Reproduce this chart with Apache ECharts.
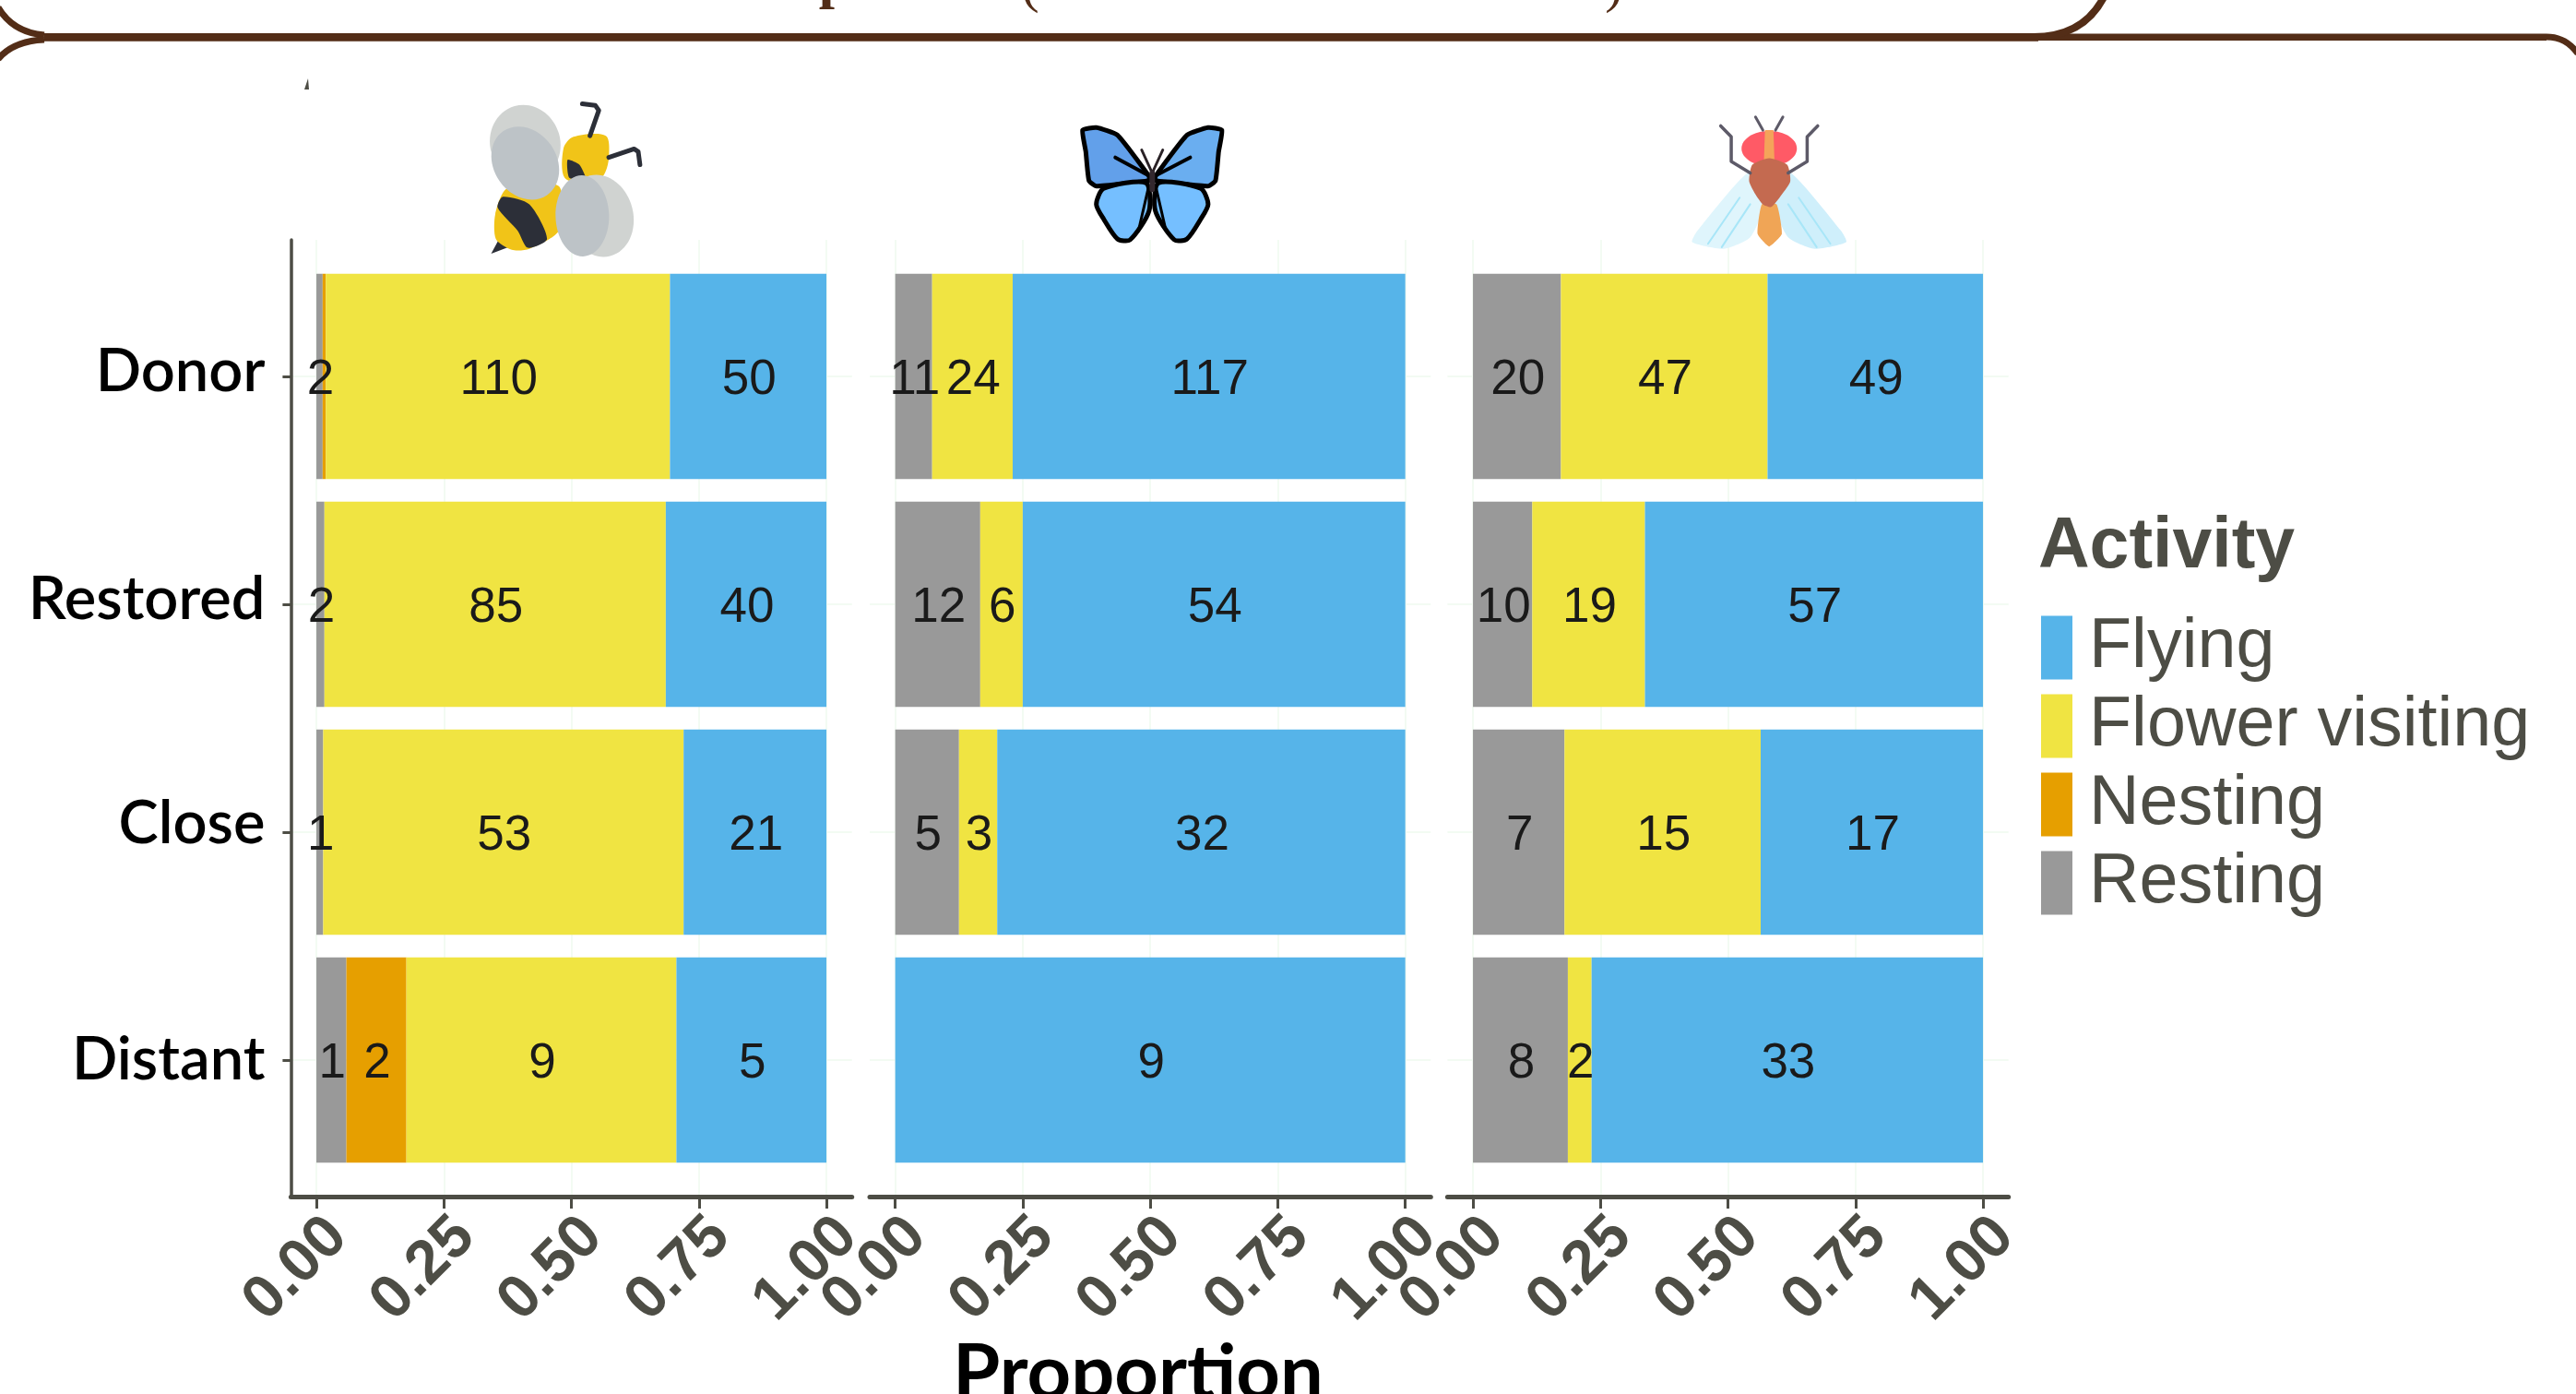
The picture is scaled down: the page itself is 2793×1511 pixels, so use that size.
<!DOCTYPE html>
<html><head><meta charset="utf-8">
<style>html,body{margin:0;padding:0;background:#fff}#c{width:2793px;height:1511px}</style>
<script src="https://cdn.jsdelivr.net/npm/echarts@6/dist/echarts.min.js"></script>
</head><body><div id="c"></div>
<script>
// ---------- data: raw counts ----------
const sites = ['Donor', 'Restored', 'Close', 'Distant'];
const activities = ['Resting', 'Nesting', 'Flower visiting', 'Flying'];
const legendOrder = ['Flying', 'Flower visiting', 'Nesting', 'Resting'];
const xTicks = [0, 0.25, 0.5, 0.75, 1];

const beeResting = [2, 2, 1, 1];
const beeNesting = [1, 0, 0, 2];
const beeFlower  = [110, 85, 53, 9];
const beeFlying  = [50, 40, 21, 5];

const butterflyResting = [11, 12, 5, 0];
const butterflyNesting = [0, 0, 0, 0];
const butterflyFlower  = [24, 6, 3, 0];
const butterflyFlying  = [117, 54, 32, 9];

const flyResting = [20, 10, 7, 8];
const flyNesting = [0, 0, 0, 0];
const flyFlower  = [47, 19, 15, 2];
const flyFlying  = [49, 57, 17, 33];

const panels = [
  [beeResting, beeNesting, beeFlower, beeFlying],
  [butterflyResting, butterflyNesting, butterflyFlower, butterflyFlying],
  [flyResting, flyNesting, flyFlower, flyFlying]
];
const colors = {'Flying':'#56B4E9','Flower visiting':'#F0E442','Nesting':'#E69F00','Resting':'#999999'};
// ---------- layout ----------
const panelLeft = [315.4, 943, 1569.4];
const panelWidth = 608.3;
const axisColor = '#4d4d45';
const gridFaint = '#f3fbf3';
const sans = '"Liberation Sans", Arial, sans-serif';
const humanist = 'Lato, "Noto Sans", sans-serif';
const siteLabelAt = [-0.02, 0.98, 1.964, 3];

const grid = [], xAxis = [], yAxis = [], series = [];
panels.forEach((counts, p) => {
  // frame grid: axis lines, ticks, labels, faint grid
  grid.push({left: panelLeft[p], width: panelWidth, top: 260, height: 1037});
  xAxis.push({
    type:'value', gridIndex: grid.length-1, min:-0.05, max:1.05,
    axisLine:{show:true, onZero:false, lineStyle:{color:axisColor,width:5}},
    axisTick:{show:true, length:13, customValues:xTicks, lineStyle:{color:axisColor,width:3}},
    axisLabel:{show:true, customValues:xTicks, rotate:45, margin:10, verticalAlign:'top', fontFamily:sans, fontSize:66, fontWeight:'bold', color:axisColor,
      formatter:v=>v.toFixed(2)},
    splitLine:{show:true, lineStyle:{color:gridFaint,width:2}}
  });
  yAxis.push({
    type:'value', gridIndex: grid.length-1, inverse:true, min:-0.6, max:3.6,
    axisLine:{show:p===0, onZero:false, lineStyle:{color:axisColor,width:3.5}},
    axisTick:{show:p===0, length:9, customValues:[0,1,2,3], lineStyle:{color:axisColor,width:3}},
    axisLabel:{show:p===0, customValues:siteLabelAt, margin:28, fontFamily:humanist, fontSize:65, fontWeight:600, color:'#000',
      formatter:v=>sites[Math.round(v)]},
    splitLine:{show:true, lineStyle:{color:gridFaint,width:2}}
  });
  // data grid: the bars
  grid.push({left: panelLeft[p], width: panelWidth, top: 284.5, height: 988});
  const gi = grid.length-1;
  xAxis.push({type:'value', gridIndex:gi, min:-0.05, max:1.05, show:false, splitLine:{show:false}});
  yAxis.push({type:'category', gridIndex:gi, inverse:true, data:sites, show:false, splitLine:{show:false}});
  const totals = sites.map((_,i)=>counts.reduce((s,a)=>s+a[i],0));
  activities.forEach((name,a)=>{
    series.push({
      name, type:'bar', stack:'p'+p, xAxisIndex:gi, yAxisIndex:gi, barCategoryGap:'10%',
      itemStyle:{color:colors[name]},
      label:{show:true, position:'inside', offset:[1,4], fontFamily:sans, fontSize:53, color:'#1a1a1a', overflow:'none',
        formatter:q=>counts[a][q.dataIndex]>0?String(counts[a][q.dataIndex]):''},
      data: counts[a].map((c,i)=>{
        const item={value:c/totals[i]};
        if(p===0&&a===1&&i===0) item.label={show:false};
        return item;
      }),
      animation:false
    });
  });
});

// ---------- decoration: frame and icons ----------
const brown='#532d17';
const B=(x,y)=>[x/1.568,y/2.8];             // bee sketch coordinates
const R=(x,y)=>[1000+x/0.8745,y/2.8];       // butterfly/fly sketch coordinates
const poly=(map,pts,fill,extra)=>Object.assign({type:'polygon',silent:true,
  shape:{points:pts.map(q=>map(q[0],q[1])),smooth:(extra&&extra.sm)||0},style:{fill,stroke:extra&&extra.st,lineWidth:extra&&extra.lw}},{z:50});
const pline=(map,pts,color,w)=>({type:'polyline',silent:true,z:52,shape:{points:pts.map(q=>map(q[0],q[1]))},style:{fill:null,stroke:color,lineWidth:w,lineCap:'round',lineJoin:'round'}});
const ell=(map,x,y,rx,ry,rot,fill)=>{const c=map(x,y);return {type:'ellipse',silent:true,z:50,x:c[0],y:c[1],rotation:rot||0,shape:{cx:0,cy:0,rx,ry},style:{fill}};};
const mir=(pts,c)=>pts.map(q=>[2*c-q[0],q[1]]);
const curve=(x1,y1,c1x,c1y,c2x,c2y,x2,y2,w)=>({type:'bezierCurve',silent:true,z:60,shape:{x1,y1,x2,y2,cpx1:c1x,cpy1:c1y,cpx2:c2x,cpy2:c2y},style:{stroke:brown,lineWidth:w,fill:null}});
const seg=(x1,y1,x2,y2,w)=>({type:'line',silent:true,z:60,shape:{x1,y1,x2,y2},style:{stroke:brown,lineWidth:w}});
const cut=(t,x,y,fs,wt)=>({type:'text',silent:true,z:60,x,y,style:{text:t,fontFamily:'"Liberation Serif",serif',fontWeight:wt,fontSize:fs,fill:brown,align:'center',verticalAlign:'bottom'}});

const w1=[[846,630],[855,597],[900,620],[930,725],[897,752],[880,700]];
const buL=[[152,395],[165,387],[185,410],[215,535],[215,548],[165,565],[158,548],[155,460]];
const blL=[[172,572],[212,555],[215,640],[197,728],[185,725],[172,665],[165,620]];
const fwL=[[785,520],[735,700],[730,735],[760,755],[785,720],[798,620]];
const graphicEls=[
  seg(48,40.3,2210,40.3,8.7), seg(2210,40.3,2761,40.3,7.4),
  curve(48,38,25,36,8,25,-2,8,7), curve(48,43,25,44,8,52,-2,64,7),
  curve(2205,40,2245,40,2268,22,2281,-3,8), curve(2761,40,2776,40,2786,46,2795,58,7),
  cut('p',905,12,62,'bold'), cut('(',1117,16,58,'normal'), cut(')',1750,16,58,'normal'),
  {type:'polygon',silent:true,z:50,shape:{points:[[334,85],[335,97],[330,97]]},style:{fill:'#4d4d45'}},
  // bee
  ...[[[1003,412],[1018,335],[1012,320],[990,315]],[[1035,478],[1078,452],[1085,460],[1088,500]]].map(p=>pline(B,p,'#2c2f38',5)),
  poly(B,[[835,770],[850,720],[865,750]],'#2c2f38'),
  poly(B,[[958,450],[975,415],[1030,412],[1035,480],[1025,535],[1000,555],[960,540]],'#f1c418',{sm:0.3}),
  poly(B,[[965,485],[985,500],[996,545],[968,540]],'#2c2f38',{sm:0.2}),
  poly(B,[[862,572],[950,565],[950,700],[900,755],[870,758],[843,725],[842,650]],'#f1c418',{sm:0.25}),
  poly(B,w1,'#2c2f38',{sm:0.25}),
  ell(B,893,435,38,42,0.28,'#d0d3d1'),
  ell(B,893,495,34,42,0.6,'#bdc3c7'),
  ell(B,1020,655,36,45,0.25,'#d0d3d1'),
  ell(B,990,655,29,44,0.02,'#bdc3c7'),
  // butterfly
  poly(R,buL,'#62a0ea',{st:'#000',lw:5,sm:0.15}),
  poly(R,mir(buL,218),'#6aaef0',{st:'#000',lw:5,sm:0.15}),
  poly(R,blL,'#75bfff',{st:'#000',lw:5,sm:0.25}),
  poly(R,mir(blL,218),'#75bfff',{st:'#000',lw:5,sm:0.25}),
  pline(R,[[218,525],[208,455]],'#2a2226',3), pline(R,[[218,525],[228,455]],'#2a2226',3),
  pline(R,[[213,530],[183,478]],'#000',4), pline(R,[[223,530],[254,478]],'#000',4),
  pline(R,[[218,525],[218,575]],'#33282e',6),
  pline(R,[[214,575],[205,700]],'#000',3), pline(R,[[222,575],[231,700]],'#000',3),
  // fly
  poly(R,fwL,'#dff5fc',{sm:0.2}), poly(R,mir(fwL,803),'#cfeffb',{sm:0.2}),
  pline(R,[[775,600],[745,740]],'#a8e6f8',2), pline(R,[[785,620],[758,750]],'#a8e6f8',2),
  pline(R,[[831,600],[861,740]],'#a8e6f8',2), pline(R,[[821,620],[848,750]],'#a8e6f8',2),
  pline(R,[[785,525],[767,490],[767,415],[757,382]],'#5d5a68',3.5),
  pline(R,[[821,525],[839,490],[839,415],[849,382]],'#5d5a68',3.5),
  pline(R,[[797,395],[790,355]],'#5d5a68',3), pline(R,[[809,395],[816,355]],'#5d5a68',3),
  ell(R,803,451,30,19,0,'#ff5a66'),
  poly(R,[[799,395],[807,395],[808,490],[798,490]],'#f4a35a'),
  poly(R,[[796,620],[810,620],[815,710],[803,748],[792,710]],'#f0a556',{sm:0.15}),
  poly(R,[[803,480],[820,500],[823,550],[815,590],[805,628],[797,620],[790,590],[784,550],[787,500]],'#c46a50',{sm:0.2})
];

const option={
  backgroundColor:'#fff', animation:false,
  title:[
    {text:'Activity',left:2205,top:550,textStyle:{fontFamily:sans,fontSize:77,fontWeight:'bold',color:axisColor}},
    {text:'Proportion',left:1028,top:1443,textStyle:{fontFamily:humanist,fontSize:83,fontWeight:'bold',color:'#000'}}
  ],
  legend:{orient:'vertical',left:2213,top:664,padding:0,itemWidth:34,itemHeight:69,itemGap:9,icon:'rect',selectedMode:false,
    data:legendOrder,textStyle:{fontFamily:sans,fontSize:75.5,color:axisColor,lineHeight:69,padding:[0,0,0,13]}},
  grid,xAxis,yAxis,series,
  graphic:{elements:graphicEls}
};
const chart=echarts.init(document.getElementById('c'),null,{renderer:'canvas',width:2793,height:1511});
chart.setOption(option);
</script></body></html>
